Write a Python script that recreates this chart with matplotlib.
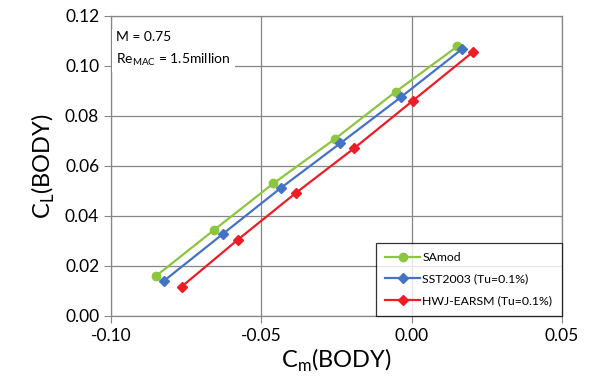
import numpy as np
import matplotlib.pyplot as plt

plt.rcParams['font.family'] = ['Lato', 'DejaVu Sans']

# SAmod
cm_sa = [-0.0850, -0.0657, -0.0460, -0.0255, -0.0053, 0.0152]
cl_sa = [0.0160, 0.0344, 0.0530, 0.0708, 0.0897, 0.1078]
# SST2003 (Tu=0.1%)
cm_sst = [-0.0823, -0.0629, -0.0435, -0.0238, -0.0036, 0.0168]
cl_sst = [0.0141, 0.0327, 0.0512, 0.0690, 0.0875, 0.1068]
# HWJ-EARSM (Tu=0.1%)
cm_hwj = [-0.0765, -0.0579, -0.0385, -0.0192, 0.0003, 0.0205]
cl_hwj = [0.0117, 0.0304, 0.0492, 0.0670, 0.0860, 0.1057]

xticks = [-0.10, -0.05, 0.00, 0.05]
yticks = [0.00, 0.02, 0.04, 0.06, 0.08, 0.10, 0.12]

fig = plt.figure(figsize=(5.89, 3.90), dpi=100)
ax = fig.add_axes([0.1885, 0.19, 0.7655, 0.769])

ax.plot(cm_sa, cl_sa, '-o', color='#8cc63e', lw=1.6, ms=6, label='SAmod')
ax.plot(cm_sst, cl_sst, '-D', color='#4472c4', lw=1.6, ms=5, label='SST2003 (Tu=0.1%)')
ax.plot(cm_hwj, cl_hwj, '-D', color='#ee1c25', lw=1.6, ms=5, label='HWJ-EARSM (Tu=0.1%)')

ax.set_xlim(-0.10, 0.05)
ax.set_ylim(0.0, 0.12)
ax.set_xticks(xticks)
ax.set_yticks(yticks)
ax.set_xticklabels(['%.2f' % v for v in xticks])
ax.set_yticklabels(['%.2f' % v for v in yticks])
ax.tick_params(labelsize=12.5, color='#868686', length=5)
ax.grid(color='#868686', lw=0.9)
ax.set_axisbelow(True)
for s in ax.spines.values():
    s.set_color('#868686')
    s.set_linewidth(0.9)

ax.set_xlabel('C$_\\mathregular{m}$(BODY)', fontsize=17, labelpad=2)
ax.set_ylabel('C$_\\mathregular{L}$(BODY)', fontsize=17, labelpad=6)

ax.text(0.012, 0.95, 'M = 0.75\n\nRe$_\\mathregular{MAC}$ = 1.5million', transform=ax.transAxes,
        fontsize=10, va='top', ha='left', linespacing=0.85,
        bbox=dict(facecolor='white', edgecolor='none', pad=3))

leg = ax.legend(loc='lower right', fontsize=8.8, frameon=True, fancybox=False,
                borderaxespad=0, handlelength=2.8, labelspacing=0.85,
                borderpad=0.8, handletextpad=0.2)
leg.get_frame().set_edgecolor('black')
leg.get_frame().set_linewidth(0.9)

fig.savefig('out.png', dpi=100)
